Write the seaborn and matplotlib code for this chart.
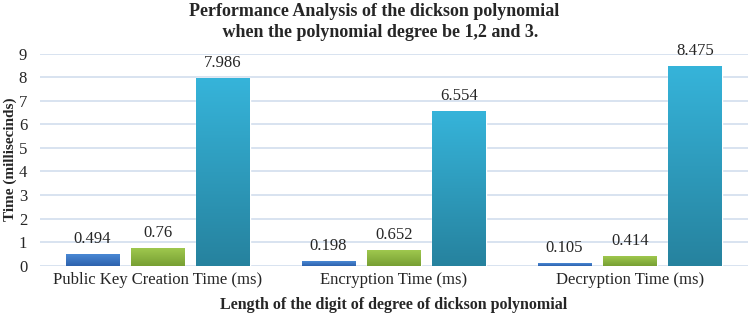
import numpy as np
import pandas as pd
import matplotlib.pyplot as plt
from matplotlib.colors import LinearSegmentedColormap
import seaborn as sns

# Values (milliseconds)
categories = ['Public Key Creation Time (ms)', 'Encryption Time (ms)', 'Decryption Time (ms)']
degree_1 = [0.494, 0.198, 0.105]
degree_2 = [0.76, 0.652, 0.414]
degree_3 = [7.986, 6.554, 8.475]
degrees = ['1', '2', '3']
label_text = {'1': ['0.494', '0.198', '0.105'],
              '2': ['0.76', '0.652', '0.414'],
              '3': ['7.986', '6.554', '8.475']}

df = pd.DataFrame({
    'category': categories * 3,
    'degree': [d for d in degrees for _ in categories],
    'time': degree_1 + degree_2 + degree_3,
})

sns.set_style('white')
plt.rcParams['font.family'] = ['Liberation Serif', 'DejaVu Serif']

fig = plt.figure(figsize=(7.48, 3.15), dpi=100)
ax = fig.add_axes([0.053, 0.157, 0.947, 0.672])

colors = ['#3b74c2', '#8ab43f', '#2e9ec2']
# top / bottom colours for the vertical gradient fill
gradients = [('#4a88d4', '#2d62ad'), ('#9fc84e', '#779f33'), ('#36b4da', '#26829e')]

sns.barplot(data=df, x='category', y='time', hue='degree', palette=colors,
            saturation=1, width=0.83, gap=0.18, legend=False, ax=ax, zorder=3)

ax.set_ylim(0, 9)
ax.set_xlim(-0.5, 2.5)

# gradient fill + value labels
grad = np.linspace(1, 0, 256).reshape(-1, 1)
for cont, deg, (top, bot) in zip(ax.containers, degrees, gradients):
    cmap = LinearSegmentedColormap.from_list('g' + deg, [bot, top])
    for bar, lbl in zip(cont, label_text[deg]):
        x0, w, h = bar.get_x(), bar.get_width(), bar.get_height()
        im = ax.imshow(grad, cmap=cmap, aspect='auto', extent=(x0, x0 + w, 0, h),
                       zorder=3.5, vmin=0, vmax=1)
        im.set_clip_path(bar)
        ax.annotate(lbl, (x0 + w / 2, h), xytext=(0, 5), textcoords='offset points',
                    ha='center', va='bottom', fontsize=12)

ax.set_aspect('auto')
ax.set_ylim(0, 9)
ax.set_xlim(-0.5, 2.5)
ax.set_yticks(range(0, 10))
ax.yaxis.grid(True, color='#d6e0ef', linewidth=1.3, zorder=0)
ax.set_axisbelow(True)
for s in ax.spines.values():
    s.set_visible(False)
ax.tick_params(axis='y', length=0, labelsize=12, pad=9)
ax.tick_params(axis='x', length=0, labelsize=12, pad=5)
ax.set_xlabel('Length of the digit of degree of dickson polynomial',
              fontsize=11.5, fontweight='bold', labelpad=6)
ax.set_ylabel('Time (millisecinds)', fontsize=11, fontweight='bold', labelpad=1)

fig.text(0.5, 0.99, 'Performance Analysis of the dickson polynomial\n   when the polynomial degree be 1,2 and 3.',
         ha='center', va='top', fontsize=13, fontweight='bold', linespacing=1.3)

fig.savefig('out.png', dpi=100)
